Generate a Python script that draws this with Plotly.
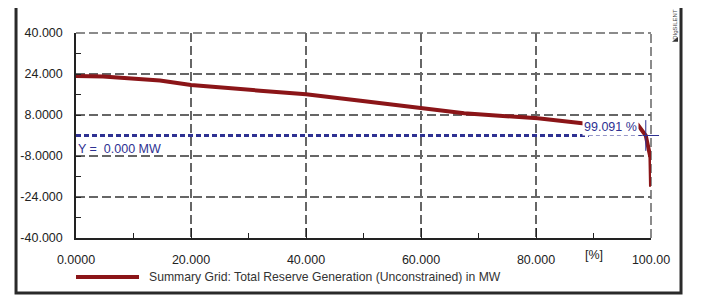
import plotly.graph_objects as go

# ---- data ----
pct = [0, 4.7, 14.6, 20, 32, 40, 49.5, 60.2, 67.5, 73, 80.3, 89.2, 97.7, 99.091, 99.9, 100]
mw = [23.2, 23.0, 21.5, 19.7, 17.5, 16.1, 13.6, 10.6, 8.7, 7.8, 6.7, 4.5, 4.2, 0.0, -8.6, -20.0]
series_name = "Summary Grid: Total Reserve Generation (Unconstrained) in MW"

x_tickvals = [0, 20, 40, 60, 80, 100]
x_ticktext = ["0.0000", "20.000", "40.000", "60.000", "80.000", "100.00"]
x_unit_pos = 90
x_unit_text = "[%]"
y_tickvals = [-40, -24, -8, 8, 24, 40]
y_ticktext = ["-40.000", "-24.000", "-8.0000", "8.0000", "24.000", "40.000"]

ref_y = 0.0          # Y = 0.000 MW reference line
ref_x = 99.091       # crossing marker in %
thick_end = 89.2     # where the thick reference dashes stop

xmin, xmax = 0, 100
ymin, ymax = -40, 40

RED = "#8B1518"
BLUE = "#2E3192"
GRID = "#666666"
TXT = "#222222"
FONT = "Liberation Sans, Arial, sans-serif"
FS = 12.5

fig = go.Figure()
fig.add_trace(go.Scatter(x=pct, y=mw, mode="lines", line=dict(color=RED, width=4),
                         showlegend=False, hoverinfo="skip"))

def ypaper(v):
    return (v - ymin) / (ymax - ymin)

def xpaper(v):
    return (v - xmin) / (xmax - xmin)

shapes = []
# dashed top and right borders (grid at range ends)
shapes.append(dict(type="line", xref="paper", yref="paper", x0=0, x1=1, y0=1, y1=1,
                   line=dict(color=GRID, width=1.5, dash="9px,4px"), layer="below"))
shapes.append(dict(type="line", xref="paper", yref="paper", x0=1, x1=1, y0=0, y1=1,
                   line=dict(color=GRID, width=1.5, dash="9px,4px"), layer="below"))
# thick reference line
shapes.append(dict(type="line", xref="x", yref="y", x0=xmin, x1=thick_end, y0=ref_y, y1=ref_y,
                   line=dict(color=BLUE, width=3, dash="5px,3px"), layer="above"))
# thin dashed continuation
shapes.append(dict(type="line", xref="x", yref="y", x0=thick_end, x1=ref_x - 0.6, y0=ref_y, y1=ref_y,
                   line=dict(color=BLUE, width=1, dash="4px,3px"), layer="above"))
# crosshair
shapes.append(dict(type="line", xref="x", yref="y", x0=ref_x, x1=ref_x, y0=ref_y - 6, y1=ref_y + 6,
                   line=dict(color=BLUE, width=1), layer="above"))
shapes.append(dict(type="line", xref="paper", yref="paper", x0=xpaper(ref_x - 0.6), x1=1.014,
                   y0=ypaper(ref_y), y1=ypaper(ref_y),
                   line=dict(color=BLUE, width=1), layer="above"))
# outer frame
shapes.append(dict(type="rect", xref="paper", yref="paper", x0=-0.1043, x1=1.0522, y0=-0.268, y1=1.1317,
                   line=dict(color="#2a2a2a", width=3), layer="above"))
# legend sample
shapes.append(dict(type="line", xref="paper", yref="paper", x0=0.0, x1=0.1096, y0=-0.190, y1=-0.190,
                   line=dict(color=RED, width=4)))
# small watermark triangle
shapes.append(dict(type="path", xref="paper", yref="paper",
                   path="M 1.0365 0.957 L 1.0470 0.957 L 1.0470 0.981 Z",
                   fillcolor="#333333", line=dict(width=0)))

annotations = [
    dict(x=xmin, y=ref_y, xref="x", yref="y", text="Y =  %.3f MW" % ref_y, showarrow=False,
         xanchor="left", yanchor="top", yshift=-4, font=dict(family=FONT, size=FS, color=BLUE)),
    dict(x=ref_x, y=ref_y, xref="x", yref="y", text="%.3f %%" % ref_x, showarrow=False,
         xanchor="right", yanchor="bottom", xshift=-7, yshift=0, bgcolor="white", borderpad=1,
         font=dict(family=FONT, size=FS, color=BLUE)),
    dict(x=x_unit_pos, y=0, xref="x", yref="paper", text=x_unit_text, showarrow=False,
         xanchor="center", yanchor="top", yshift=-8, font=dict(family=FONT, size=FS, color=TXT)),
    dict(x=0.1235, y=-0.190, xref="paper", yref="paper", text=series_name, showarrow=False,
         xanchor="left", yanchor="middle", font=dict(family=FONT, size=12.2, color="#333333")),
    dict(x=1.0417, y=1.045, xref="paper", yref="paper", text="DIgSILENT", showarrow=False,
         textangle=-90, xanchor="center", yanchor="middle", font=dict(family=FONT, size=6, color="#444444")),
]

# page body has an 8px default margin, so the figure is 8px smaller and margins shifted
fig.update_layout(
    width=694, height=289,
    margin=dict(l=68, r=51, t=25, b=59, autoexpand=False),
    paper_bgcolor="white", plot_bgcolor="white",
    showlegend=False,
    font=dict(family=FONT, size=FS, color=TXT),
    shapes=shapes, annotations=annotations,
    xaxis=dict(range=[xmin, xmax], tickvals=x_tickvals, ticktext=x_ticktext,
               ticks="inside", ticklen=10, tickcolor="#222", tickwidth=1,
               showline=True, linecolor="#222", linewidth=1.5,
               showgrid=True, gridcolor=GRID, gridwidth=1.5, griddash="9px,4px",
               zeroline=False, ticklabelstandoff=9,
               minor=dict(dtick=10, ticks="inside", ticklen=5, tickcolor="#222", showgrid=False),
               tickfont=dict(family=FONT, size=FS, color=TXT)),
    yaxis=dict(range=[ymin, ymax], tickvals=y_tickvals, ticktext=y_ticktext,
               ticks="inside", ticklen=5, tickcolor="#222", tickwidth=1,
               showline=True, linecolor="#222", linewidth=1.5,
               showgrid=True, gridcolor=GRID, gridwidth=1.5, griddash="9px,4px",
               zeroline=False, ticklabelstandoff=9,
               minor=dict(dtick=8, ticks="inside", ticklen=5, tickcolor="#222", showgrid=False),
               tickfont=dict(family=FONT, size=FS, color=TXT)),
)

fig.write_html("out.html")
